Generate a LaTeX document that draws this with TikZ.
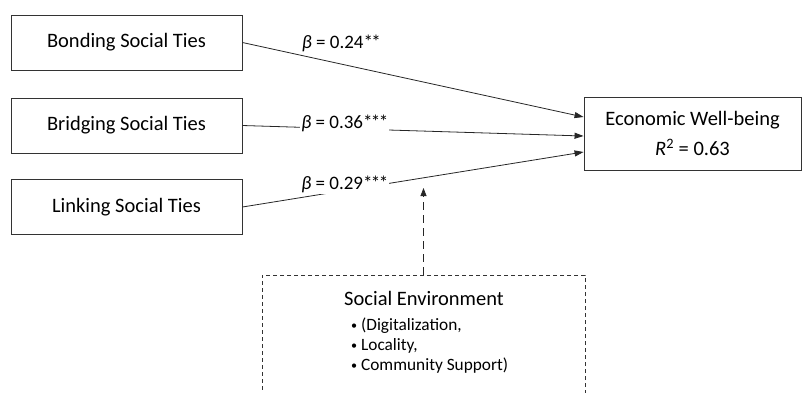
\documentclass[tikz,border=0pt]{standalone}
\usepackage{fontspec}
\setmainfont{Carlito}
\usetikzlibrary{arrows.meta, positioning, calc}

\newcommand{\sig}[1]{\foreach \k in {1,...,#1}{*\kern-1.6pt}\kern1.6pt}
\newcommand{\bul}{\raisebox{1.5pt}{\scalebox{0.7}{•}}}

\begin{document}
\begin{tikzpicture}[
		x=1pt, y=-1pt,
		font=\fontsize{20.5}{25}\selectfont,
		box/.style={draw=black!80, line width=0.9pt, minimum width=231pt, minimum height=55pt},
		eff/.style={-{Triangle[length=9pt, width=6pt]}, line width=0.8pt, draw=black!85},
		lab/.style={fill=white, inner sep=1pt, font=\fontsize{19}{23}\selectfont}
		]
		\useasboundingbox (0,0) rectangle (802,392);
		\clip (0,0) rectangle (802,392);
		
		% Social ties
		\node[box] (bond) at (126.5,42.5) {Bonding Social Ties};
		\node[box] (bridge) at (126.5,125.5) {Bridging Social Ties};
		\node[box] (link) at (126.5,207) {Linking Social Ties};
		
		% Outcome
		\node[box, minimum width=217pt, minimum height=73pt, align=center] (econ) at (692.5,133.5)
		{\raisebox{-3.5pt}{Economic Well-being}\\[5pt]
			\raisebox{-3.5pt}{\textit{R}\textsuperscript{2} = 0.63}};
		
		% Paths
		\draw[eff] (bond.east) -- ($(econ.west)+(0,-16.5)$)
		node[lab, pos=0.29, yshift=21pt, fill=none] {\textit{β} = 0.24\sig{2}};
		\draw[eff] (bridge.east) -- ($(econ.west)+(0,2.5)$)
		node[lab, pos=0.30, yshift=5pt] {\textit{β} = 0.36\sig{3}};
		\draw[eff] (link.east) -- ($(econ.west)+(0,18.5)$)
		node[lab, pos=0.30, yshift=6pt] {\textit{β} = 0.29\sig{3}};
		
		% Moderator
		\node[draw=black!80, line width=0.8pt, dash pattern=on 4pt off 3pt,
		minimum width=323pt, minimum height=125pt] (env) at (423.5,337.5) {};
		\node (envtitle) at (424,298) {Social Environment};
		\node[anchor=north west, align=left, inner sep=0pt,
		font=\fontsize{17.3}{20}\selectfont] (envlist) at (351,318)
		{\bul\ (Digitalization,\\ \bul\ Locality,\\ \bul\ Community Support)};
		
		\coordinate (mod) at (423.5,188);
		\draw[-{Triangle[length=8pt, width=6pt]}, line width=0.8pt, draw=black!85,
		dash pattern=on 8pt off 5pt] (env.north) -- (mod);
		
	\end{tikzpicture}
\end{document}
